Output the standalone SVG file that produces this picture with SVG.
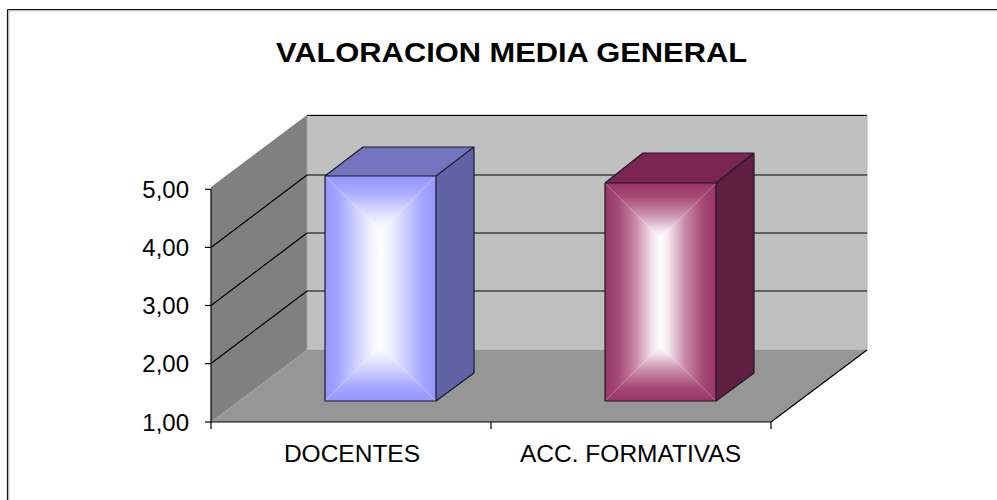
<svg xmlns="http://www.w3.org/2000/svg" width="997" height="500" viewBox="0 0 997 500">
  <defs>
    <linearGradient id="blue" x1="0" y1="0" x2="0" y2="1">
      <stop offset="0" stop-color="#9595ff"/><stop offset="0.25" stop-color="#a6a6ff"/><stop offset="0.55" stop-color="#cdcdff"/><stop offset="0.85" stop-color="#f3f3ff"/><stop offset="1" stop-color="#ffffff"/>
    </linearGradient>
    <linearGradient id="plum" x1="0" y1="0" x2="0" y2="1">
      <stop offset="0" stop-color="#993366"/><stop offset="0.25" stop-color="#a64c76"/><stop offset="0.55" stop-color="#c98aa8"/><stop offset="0.85" stop-color="#f1e3ea"/><stop offset="1" stop-color="#ffffff"/>
    </linearGradient>
    <linearGradient id="bT" href="#blue" x1="0" y1="0" x2="0" y2="1"/>
    <linearGradient id="bB" href="#blue" x1="0" y1="1" x2="0" y2="0"/>
    <linearGradient id="bL" href="#blue" x1="0" y1="0" x2="1" y2="0"/>
    <linearGradient id="bR" href="#blue" x1="1" y1="0" x2="0" y2="0"/>
    <linearGradient id="pT" href="#plum" x1="0" y1="0" x2="0" y2="1"/>
    <linearGradient id="pB" href="#plum" x1="0" y1="1" x2="0" y2="0"/>
    <linearGradient id="pL" href="#plum" x1="0" y1="0" x2="1" y2="0"/>
    <linearGradient id="pR" href="#plum" x1="1" y1="0" x2="0" y2="0"/>
  </defs>
  <style>
    .ln { stroke: #000; stroke-width: 1.2; fill: none; }
    .edge { stroke: #1a1a2a; stroke-width: 1.2; fill: none; stroke-linejoin: round; }
    .lbl { font-family: "Liberation Sans", Arial, sans-serif; font-size: 24px; fill: #000; text-anchor: end; }
    .cat { font-family: "Liberation Sans", Arial, sans-serif; font-size: 24.5px; fill: #000; text-anchor: middle; }
    .title { font-family: "Liberation Sans", Arial, sans-serif; font-size: 28.5px; font-weight: bold; fill: #000; text-anchor: middle; }
  </style>
  <rect x="0" y="0" width="997" height="500" fill="#ffffff"/>
  <g id="frame">
    <line x1="7.5" y1="9.5" x2="997" y2="9.5" stroke="#111" stroke-width="1.2"/>
    <line x1="8.5" y1="10.8" x2="997" y2="10.8" stroke="#aaa" stroke-width="1"/>
    <line x1="7.5" y1="9.5" x2="7.5" y2="500" stroke="#111" stroke-width="1.2"/>
    <line x1="8.8" y1="10.8" x2="8.8" y2="500" stroke="#aaa" stroke-width="1"/>
  </g>
  <g id="title"><text class="title" x="511.5" y="61.5" textLength="471" lengthAdjust="spacingAndGlyphs">VALORACION MEDIA GENERAL</text></g>
  <g id="walls">
    <polygon points="211,187 307,115 307,350 211,422" fill="#808080"/>
    <polygon points="307,115 867,115 867,350 307,350" fill="#c0c0c0" stroke="#a8a8a8" stroke-width="0.8"/>
    <polygon points="211,422 307,350 867,350 771,422" fill="#969696"/>
  </g>
  <g id="connectors">
    <line class="ln" x1="307" y1="115.5" x2="867" y2="115.5"/>
    <line class="ln" x1="307" y1="175" x2="867" y2="175"/>
    <line class="ln" x1="307" y1="233" x2="867" y2="233"/>
    <line class="ln" x1="307" y1="291" x2="867" y2="291"/>
    <line class="ln" x1="211" y1="247.4" x2="307" y2="175"/>
    <line class="ln" x1="211" y1="305.5" x2="307" y2="233"/>
    <line class="ln" x1="211" y1="363.6" x2="307" y2="291"/>
    <line class="ln" x1="211" y1="189" x2="211" y2="422.5"/>
    <line class="ln" x1="205" y1="189.3" x2="211" y2="189.3"/>
    <line class="ln" x1="205" y1="247.4" x2="211" y2="247.4"/>
    <line class="ln" x1="205" y1="305.5" x2="211" y2="305.5"/>
    <line class="ln" x1="205" y1="363.6" x2="211" y2="363.6"/>
    <line class="ln" x1="205" y1="422" x2="211" y2="422"/>
    <line class="ln" x1="211" y1="422" x2="771" y2="422"/>
    <line class="ln" x1="771" y1="422" x2="867" y2="350"/>
    <line class="ln" x1="211" y1="422" x2="211" y2="429"/>
    <line class="ln" x1="491" y1="422" x2="491" y2="429"/>
    <line class="ln" x1="771" y1="422" x2="771" y2="429"/>
  </g>
  <g id="bar-docentes">
    <polygon points="325,176 363,147 474,147 436,176" fill="#7373be"/>
    <polygon points="436,176 474,147 474,373 436,401" fill="#6262a6"/>
    <rect x="325" y="176" width="111" height="225" fill="#ffffff"/>
    <polygon points="325,176 436,176 380.5,231.5" fill="url(#bT)"/>
    <polygon points="325,401 436,401 380.5,345.5" fill="url(#bB)"/>
    <polygon points="325,176 380.5,231.5 380.5,345.5 325,401" fill="url(#bL)"/>
    <polygon points="436,176 380.5,231.5 380.5,345.5 436,401" fill="url(#bR)"/>
    <path class="edge" d="M325,176 L363,147 L474,147 L474,373 L436,401 L325,401 Z M325,176 L436,176 L474,147 M436,176 L436,401"/>
  </g>
  <g id="bar-acc">
    <polygon points="605,183 643,153 754,153 716,183" fill="#7a2650"/>
    <polygon points="716,183 754,153 754,373 716,401" fill="#602042"/>
    <rect x="605" y="183" width="111" height="218" fill="#ffffff"/>
    <polygon points="605,183 716,183 660.5,238.5" fill="url(#pT)"/>
    <polygon points="605,401 716,401 660.5,345.5" fill="url(#pB)"/>
    <polygon points="605,183 660.5,238.5 660.5,345.5 605,401" fill="url(#pL)"/>
    <polygon points="716,183 660.5,238.5 660.5,345.5 716,401" fill="url(#pR)"/>
    <path class="edge" d="M605,183 L643,153 L754,153 L754,373 L716,401 L605,401 Z M605,183 L716,183 L754,153 M716,183 L716,401" stroke="#2a0a18"/>
  </g>
  <g id="axis-labels">
    <text class="lbl" x="189" y="197.8">5,00</text>
    <text class="lbl" x="189" y="255.9">4,00</text>
    <text class="lbl" x="189" y="314">3,00</text>
    <text class="lbl" x="189" y="372.1">2,00</text>
    <text class="lbl" x="189" y="430.5">1,00</text>
  </g>
  <g id="category-labels">
    <text class="cat" x="352" y="461.5">DOCENTES</text>
    <text class="cat" x="630.5" y="461.5">ACC. FORMATIVAS</text>
  </g>
</svg>
